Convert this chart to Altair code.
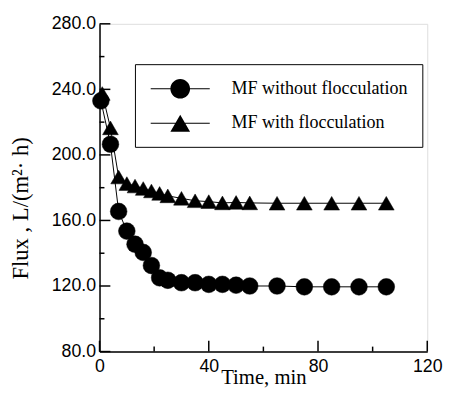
import altair as alt
import pandas as pd

# --- data ---
time_without = [0.5, 4, 7, 10, 13, 16, 19, 22, 25, 30, 35, 40, 45, 50, 55, 65, 75, 85, 95, 105]
flux_without = [233, 206.5, 165.5, 153.5, 145.5, 140.5, 132.5, 125, 123.5, 122, 122, 121, 121,
                120.5, 120, 120, 119.5, 119.5, 119.5, 119.5]
time_with = [1, 4, 7, 10, 13, 16, 19, 22, 25, 30, 35, 40, 45, 50, 55, 65, 75, 85, 95, 105]
flux_with = [237.5, 216.5, 186.5, 182.5, 181, 179.5, 178, 176.5, 175, 173.5, 172, 171.5, 170.7,
             171, 170.7, 170.5, 170.5, 170.5, 170.5, 170.5]
series_names = ["MF without flocculation", "MF with flocculation"]

x_major = [0, 40, 80, 120]
x_minor = [20, 60, 100]
y_major = [80, 120, 160, 200, 240, 280]
y_minor = [100, 140, 180, 220, 260]

df = pd.concat([
    pd.DataFrame({"time": time_without, "flux": flux_without, "series": series_names[0]}),
    pd.DataFrame({"time": time_with, "flux": flux_with, "series": series_names[1]}),
])

W, H = 333, 333
SERIF = "Liberation Serif"
SANS = "Liberation Sans"

xs = alt.Scale(domain=[0, 120], nice=False, zero=False)
ys = alt.Scale(domain=[80, 280], nice=False, zero=False)
xaxis = alt.Axis(values=x_major, format="d", title="Time, min", ticks=False, grid=False,
                 labelFont=SANS, labelFontSize=18, labelColor="black", labelPadding=6,
                 titleFont=SERIF, titleFontSize=21, titleFontWeight="normal", titleColor="black",
                 titleY=15, titleBaseline="top", domainColor="black", domainWidth=1.5,
                 labelFlush=False)
yaxis = alt.Axis(values=y_major, format=".1f", title="Flux , L/(m²· h)", ticks=False, grid=False,
                 labelFont=SANS, labelFontSize=18, labelColor="black", labelPadding=4,
                 titleFont=SERIF, titleFontSize=23, titleFontWeight="normal", titleColor="black",
                 titlePadding=19, titleY=187, domainColor="black", domainWidth=1.5, labelFlush=False)

X = alt.X("time:Q", scale=xs, axis=xaxis)
Y = alt.Y("flux:Q", scale=ys, axis=yaxis)

base = alt.Chart(df)
lines = base.mark_line(color="black", strokeWidth=1).encode(x=X, y=Y, detail="series:N")
points = base.mark_point(filled=True, color="black", opacity=1, stroke="black", strokeWidth=0.5).encode(
    x=X, y=Y,
    shape=alt.Shape("series:N", scale=alt.Scale(domain=series_names, range=["circle", "triangle-up"]), legend=None),
    size=alt.Size("series:N", scale=alt.Scale(domain=series_names, range=[289, 256]), legend=None),
)

# legend symbols: marker with a short line through it (line drawn as a thin filled bar)
bar = "M-3,-0.05L3,-0.05L3,0.05L-3,0.05Z"
circle_path = bar + "M1,0A1,1,0,1,1,-1,0A1,1,0,1,1,1,0Z"
tri_path = bar + "M0,-0.866L1,0.866L-1,0.866Z"
legend_layer = alt.Chart(df).mark_point(filled=True, color="black", opacity=1).encode(
    x=X, y=Y,
    shape=alt.Shape("series:N", scale=alt.Scale(domain=series_names, range=[circle_path, tri_path]),
                    legend=alt.Legend(title=None, orient="none", legendX=36, legendY=41,
                                      strokeColor="black", fillColor="white", padding=15,
                                      rowPadding=15, symbolSize=400, symbolFillColor="black",
                                      symbolStrokeWidth=0,
                                      symbolOpacity=1, symbolOffset=21, labelOffset=42,
                                      labelFont=SERIF, labelFontSize=18.3, labelColor="black",
                                      labelLimit=400)),
).transform_filter("false")

ytick_major = alt.Chart(pd.DataFrame({"flux": y_major})).mark_rule(color="black", strokeWidth=1.5).encode(
    y=Y, x=alt.value(0), x2=alt.value(11))
ytick_minor = alt.Chart(pd.DataFrame({"flux": y_minor})).mark_rule(color="black", strokeWidth=1.5).encode(
    y=Y, x=alt.value(0), x2=alt.value(5))
xtick_major = alt.Chart(pd.DataFrame({"time": x_major})).mark_rule(color="black", strokeWidth=1.5).encode(
    x=X, y=alt.value(H), y2=alt.value(H - 11))
xtick_minor = alt.Chart(pd.DataFrame({"time": x_minor})).mark_rule(color="black", strokeWidth=1.5).encode(
    x=X, y=alt.value(H), y2=alt.value(H - 5))

chart = alt.layer(
    ytick_major, ytick_minor, xtick_major, xtick_minor, lines, points, legend_layer
).resolve_scale(shape="independent", size="independent").properties(
    width=W, height=H, padding={"left": 1, "top": 4, "right": 0, "bottom": 0}
).configure_view(stroke="black", strokeWidth=1.5).configure(background="white")

chart.save("out.html", embed_options={"renderer": "svg", "actions": False})
